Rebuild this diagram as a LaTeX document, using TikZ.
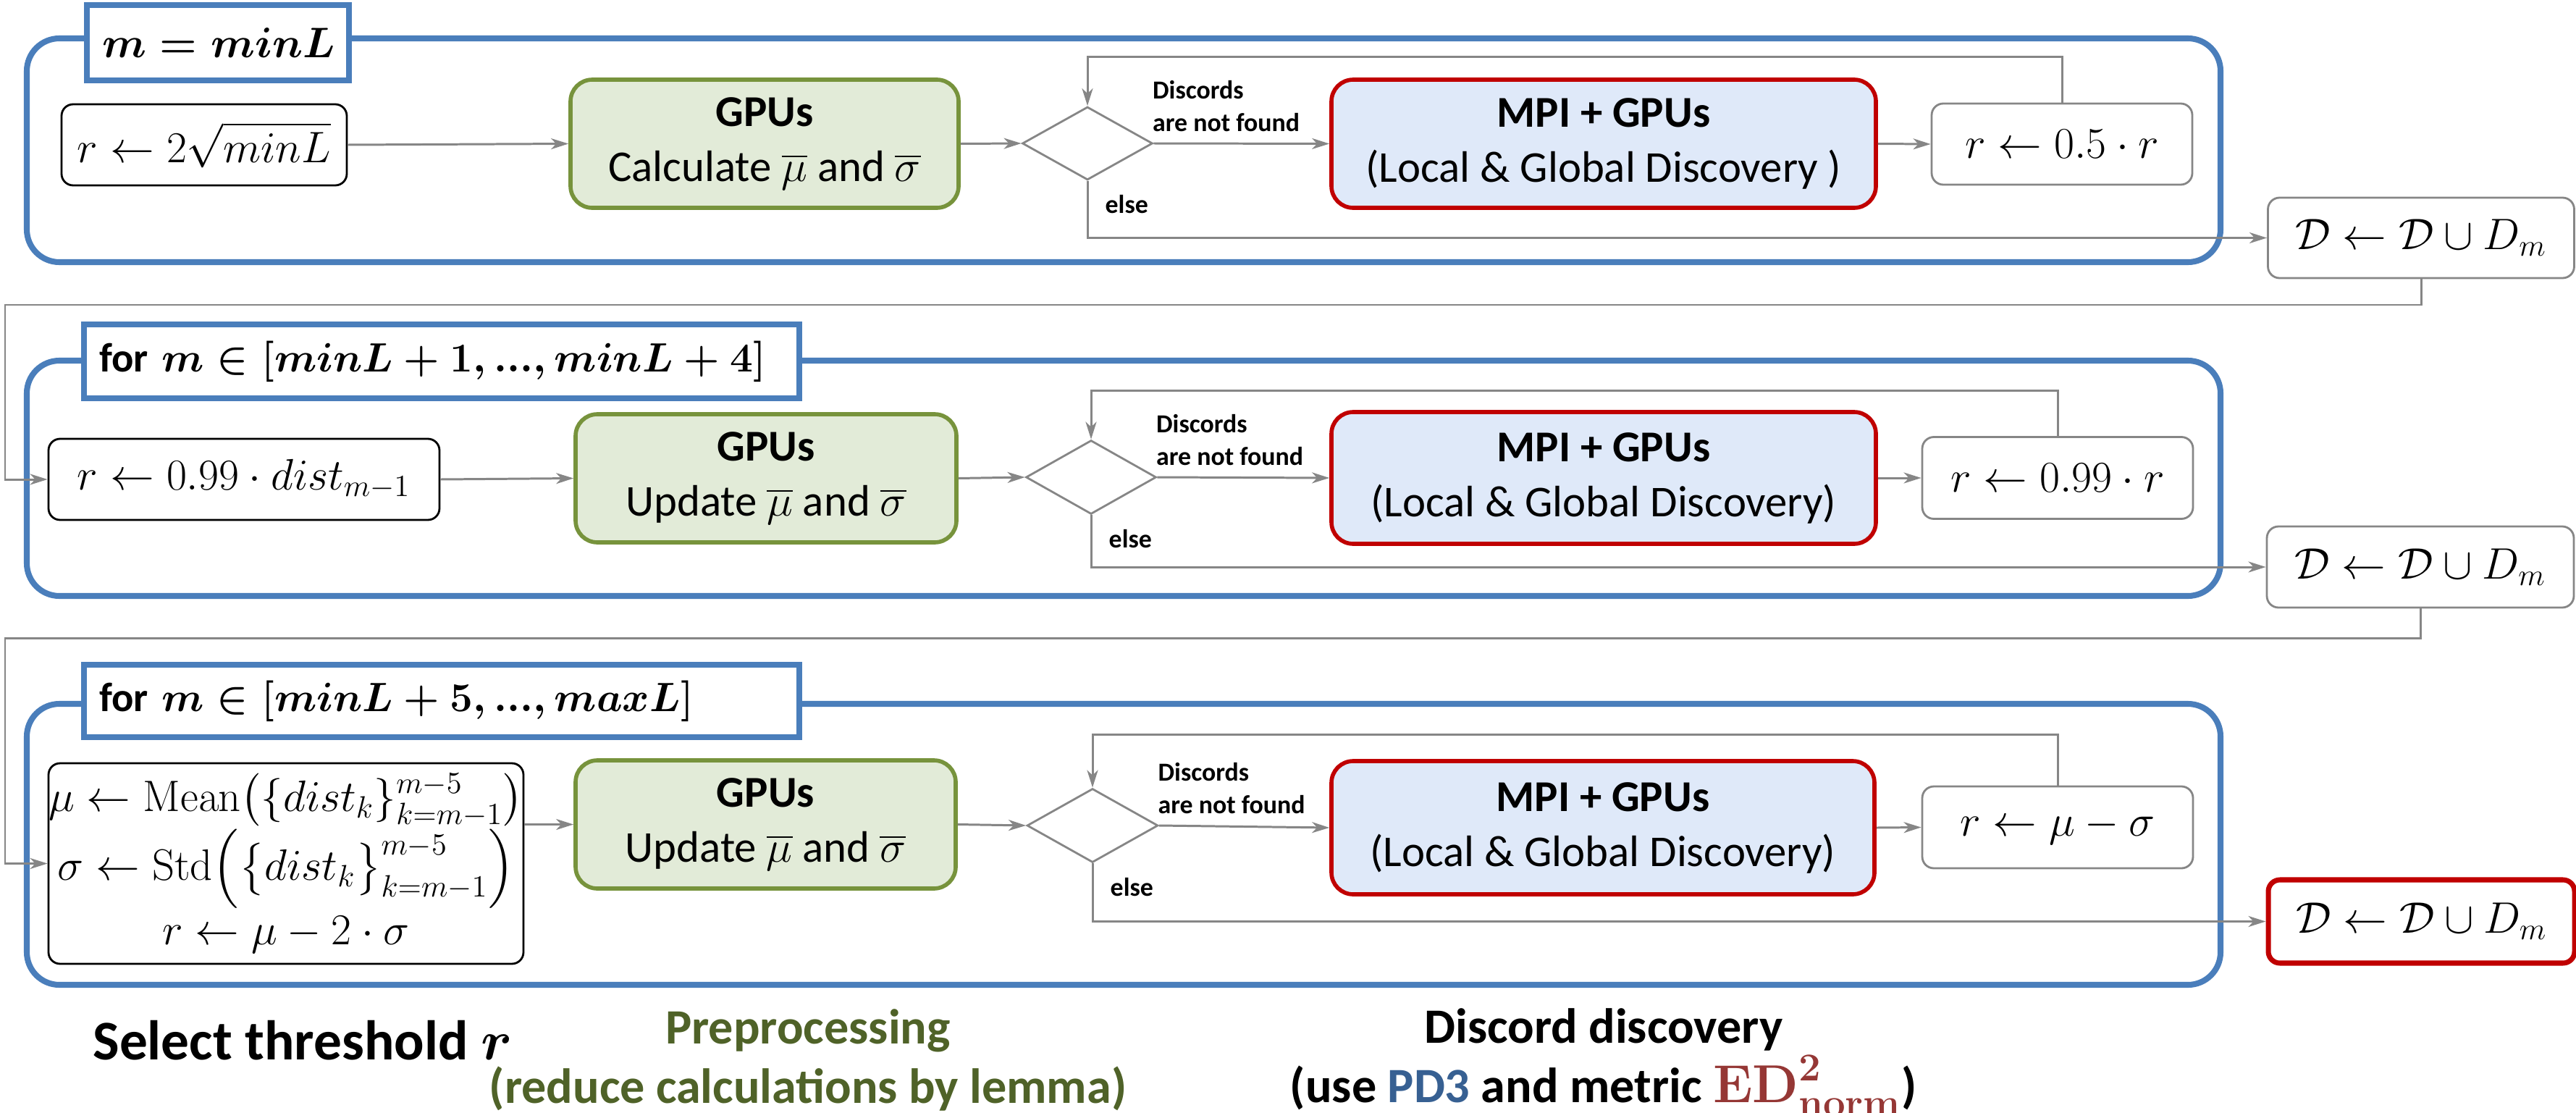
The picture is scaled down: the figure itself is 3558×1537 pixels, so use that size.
\RequirePackage{fix-cm}
\documentclass[tikz,border=0pt]{standalone}
\usepackage{amsmath}
\usepackage[no-math]{fontspec}
\setmainfont{Carlito}
\usetikzlibrary{shapes.geometric,arrows.meta,calc}

\definecolor{panelblue}{HTML}{4A7EBB}
\definecolor{linegray}{HTML}{868686}
\definecolor{gpuline}{HTML}{77933C}
\definecolor{gpufill}{HTML}{E2EBD8}
\definecolor{mpiline}{HTML}{C00000}
\definecolor{mpifill}{HTML}{DFE9F9}
\definecolor{olivetext}{HTML}{4F6228}
\definecolor{pdblue}{HTML}{376092}
\definecolor{edred}{HTML}{953735}

\newcommand\boxfont{\fontsize{17.3}{21.6}\selectfont}
\newcommand\bmath[1]{$\boldsymbol{#1}$}
\newcommand\tightdots{{.}{.}{.}}
\newcommand\scriptbf[1]{\mbox{\fontsize{15.5}{15.5}\selectfont$\mathbf{#1}$}}

\tikzset{
  panel/.style={draw=panelblue, line width=2.3pt, rounded corners=4.5mm, inner sep=0pt},
  looplabel/.style={draw=panelblue, line width=2.1pt, fill=white, inner xsep=2.1mm,
    inner ysep=0pt, align=left, font=\fontsize{16.1}{20}\selectfont},
  mathbox/.style={draw=black, line width=0.8pt, rounded corners=1.6mm, fill=white,
    inner sep=0pt, font=\boxfont, align=center},
  graybox/.style={mathbox, draw=linegray},
  resultbox/.style={mathbox, draw=mpiline, line width=2pt},
  gpubox/.style={draw=gpuline, fill=gpufill, line width=1.6pt, rounded corners=3mm,
    inner sep=0pt, align=center, font=\boxfont},
  mpibox/.style={gpubox, draw=mpiline, fill=mpifill},
  decision/.style={diamond, draw=linegray, line width=0.8pt, fill=white, inner sep=0pt},
  flow/.style={draw=linegray, line width=0.85pt,
    -{Stealth[length=2.4mm,width=1.5mm,inset=0.7mm]}},
  smalllabel/.style={font=\fontsize{10.2}{12.8}\selectfont\bfseries, inner sep=0pt, align=left},
  caption/.style={font=\fontsize{19.4}{23.4}\selectfont\bfseries, inner sep=0pt, align=center},
}

\begin{document}
\begin{tikzpicture}[x=0.1mm, y=-0.1mm]
\useasboundingbox (0,0) rectangle (3558,1537);
\clip (0,0) rectangle (3558,1537);

% ---------- loop frames ----------
\node[panel, minimum width=303mm, minimum height=30.9mm] (p1) at (1552,207.5) {};
\node[panel, minimum width=303mm, minimum height=32.5mm] (p2) at (1552,660.5) {};
\node[panel, minimum width=303mm, minimum height=38.8mm] (p3) at (1552,1166) {};

\node[looplabel, font=\fontsize{16.8}{20}\selectfont, minimum width=36.2mm, minimum height=10.4mm, text width=32mm] (l1) at (301,59) {\mbox{\bmath{m = minL}}};
\node[looplabel, minimum width=98.8mm, minimum height=10.2mm, text width=94.6mm] (l2) at (610,499) {\mbox{\textbf{for} \bmath{m \in [minL + 1, \tightdots, minL + 4]}}};
\node[looplabel, minimum width=98.8mm, minimum height=10.0mm, text width=94.6mm] (l3) at (610,968) {\mbox{\textbf{for} \bmath{m \in [minL + 5, \tightdots, maxL]}}};

% ---------- first length ----------
\node[mathbox, minimum width=39.4mm, minimum height=11.2mm] (ri1) at (282,200) {$r \leftarrow 2\sqrt{minL}$};
\node[gpubox, minimum width=53.6mm, minimum height=17.7mm] (g1) at (1056,198.5) {\textbf{GPUs}\\Calculate $\overline{\mu}$ and $\overline{\sigma}$};
\node[decision, minimum width=18mm, minimum height=10.1mm] (d1) at (1502,198) {};
\node[mpibox, minimum width=75.2mm, minimum height=17.7mm] (m1) at (2215,198.5) {\textbf{MPI + GPUs}\\(Local \& Global Discovery )};
\node[graybox, minimum width=36mm, minimum height=11.2mm] (ru1) at (2848,199) {$r \leftarrow 0.5 \cdot r$};
\node[graybox, minimum width=42.3mm, minimum height=11.1mm] (s1) at (3344,328.5) {$\mathcal{D} \leftarrow \mathcal{D} \cup D_m$};

% ---------- next four lengths ----------
\node[mathbox, minimum width=54mm, minimum height=11.2mm] (ri2) at (337,662) {$r \leftarrow 0.99 \cdot dist_{m-1}$};
\node[gpubox, minimum width=52.6mm, minimum height=17.7mm] (g2) at (1058,660.5) {\textbf{GPUs}\\Update $\overline{\mu}$ and $\overline{\sigma}$};
\node[decision, minimum width=18mm, minimum height=10.2mm] (d2) at (1507,659) {};
\node[mpibox, minimum width=75.2mm, minimum height=18.2mm] (m2) at (2215,660) {\textbf{MPI + GPUs}\\(Local \& Global Discovery)};
\node[graybox, minimum width=37.4mm, minimum height=11.3mm] (ru2) at (2842,660) {$r \leftarrow 0.99 \cdot r$};
\node[graybox, minimum width=42.4mm, minimum height=11.2mm] (s2) at (3343,783) {$\mathcal{D} \leftarrow \mathcal{D} \cup D_m$};

% ---------- remaining lengths ----------
\node[mathbox, minimum width=65.6mm, minimum height=27.7mm, font=\fontsize{17.3}{25.5}\selectfont] (ri3) at (395,1192.5) {$\mu \leftarrow \mathrm{Mean}\bigl(\{dist_k\}_{k=m-1}^{m-5}\bigr)$\\$\sigma \leftarrow \mathrm{Std}\Bigl(\bigl\{dist_k\bigr\}_{k=m-1}^{m-5}\Bigr)$\\$r \leftarrow \mu - 2 \cdot \sigma$};
\node[gpubox, minimum width=52.5mm, minimum height=17.7mm] (g3) at (1057.5,1138.5) {\textbf{GPUs}\\Update $\overline{\mu}$ and $\overline{\sigma}$};
\node[decision, minimum width=18.1mm, minimum height=10.2mm] (d3) at (1509,1140) {};
\node[mpibox, minimum width=75mm, minimum height=18.4mm] (m3) at (2214,1143) {\textbf{MPI + GPUs}\\(Local \& Global Discovery)};
\node[graybox, minimum width=37.4mm, minimum height=11.3mm] (ru3) at (2842,1142.5) {$r \leftarrow \mu - \sigma$};
\node[resultbox, minimum width=42.3mm, minimum height=11.5mm] (s3) at (3344.5,1272.5) {$\mathcal{D} \leftarrow \mathcal{D} \cup D_m$};

% ---------- branch labels ----------
\foreach \d in {1,2,3}{
  \node[smalllabel, anchor=south west] (nf\d) at ($(d\d.east)+(-2,-16)$) {Discords\\are not found};
  \node[smalllabel, anchor=base west] (el\d) at ($(d\d.south)+(24,45)$) {else};
}

% ---------- connectors ----------
\path (d1.north) ++(0,-68) coordinate (t1);
\path (d2.north) ++(0,-67) coordinate (t2);
\path (d3.north) ++(0,-73) coordinate (t3);
\coordinate (c1) at (7,421);
\coordinate (c2) at (7,881);

\draw[flow] (ri1.east) -- (g1.west);
\draw[flow] (g1.east) -- (d1.west);
\draw[flow] (d1.east) -- (m1.west);
\draw[flow] (m1.east) -- (ru1.west);
\draw[flow] (ru1.north) |- (t1) -- (d1.north);
\draw[flow] (d1.south) |- (s1.west);
\draw[flow] (s1.south) |- (c1) |- (ri2.west);

\draw[flow] (ri2.east) -- (g2.west);
\draw[flow] (g2.east) -- (d2.west);
\draw[flow] (d2.east) -- (m2.west);
\draw[flow] (m2.east) -- (ru2.west);
\draw[flow] (ru2.north) |- (t2) -- (d2.north);
\draw[flow] (d2.south) |- (s2.west);
\draw[flow] (s2.south) |- (c2) |- (ri3.west);

\draw[flow] (ri3.east |- g3.west) -- (g3.west);
\draw[flow] (g3.east) -- (d3.west);
\draw[flow] (d3.east) -- (m3.west);
\draw[flow] (m3.east) -- (ru3.west);
\draw[flow] (ru3.north) |- (t3) -- (d3.north);
\draw[flow] (d3.south) |- (s3.west);

% ---------- column captions ----------
\node[caption, font=\fontsize{22}{26}\selectfont\bfseries, anchor=base] (capA) at (418,1463) {Select threshold \bmath{r}};
\node[caption, anchor=north, text=olivetext] (capB) at (1116,1393) {Preprocessing\\(reduce calculations by lemma)};
\node[caption, anchor=north] (capC) at (2215,1392) {Discord discovery\\(use \textcolor{pdblue}{PD3} and metric \textcolor{edred}{\fontsize{21}{23}\selectfont$\mathbf{ED}^{\scriptbf{2}}_{\scriptbf{norm}}$})};
\end{tikzpicture}
\end{document}
